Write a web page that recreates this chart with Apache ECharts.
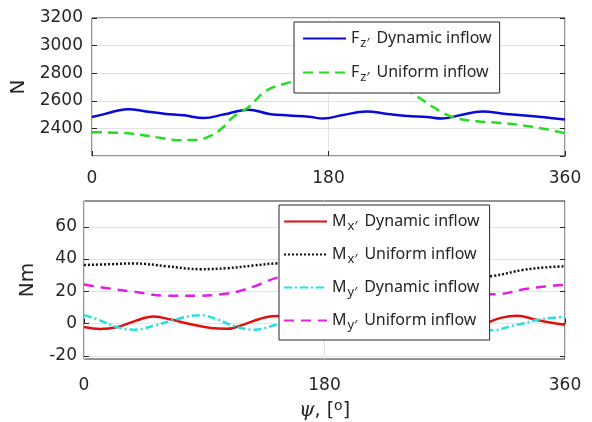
<!DOCTYPE html>
<html><head><meta charset="utf-8">
<script src="https://cdn.jsdelivr.net/npm/echarts@6/dist/echarts.min.js"></script>
<style>html,body{margin:0;padding:0;background:#fff}#c{width:592px;height:422px}</style>
</head><body><div id="c"></div>
<script>
// ---- Top panel data (psi in degrees, force in N) ----
const psiFzDyn = [0,10,20,28,40,55,70,85,100,119,135,150,165,176,190,209,225,240,255,266,280,297,315,340,360];
const fzDynamic = [2482,2505,2530,2538,2525,2507,2495,2475,2500,2536,2505,2494,2485,2471,2495,2522,2505,2490,2483,2471,2495,2522,2505,2485,2465];
const psiFzUni = [0,27,50,65,80,90,100,107,119,133,151,170,195,220,240,260,275,293,310,328,345,360];
const fzUniform = [2373,2364,2335,2315,2318,2345,2410,2480,2553,2676,2735,2790,2820,2770,2676,2553,2480,2451,2440,2422,2395,2364];

// ---- Bottom panel data (moments in Nm) ----
const psiMxDyn = [0,12,25,38,52,65,80,95,107,120,132,144,158,172,187,200,215,232,245,260,275,287,300,312,324,339,350,360];
const mxDynamic = [-2.2,-3.4,-2.2,1.5,4.3,2.5,-0.5,-2.8,-3.3,-0.5,3,4.6,2.5,-1,-3.3,-2,1.5,4.5,3,0,-3,-3.3,0,3.5,4.8,2.2,0.5,-0.8];
const psiMxUni = [0,20,37,62,87,107,127,144,160,190,220,250,280,306,329,345,360];
const mxUniform = [36.3,36.8,37.3,35.5,33.7,34.3,36,37.3,37.5,35,31,28,27.5,29.5,33.3,34.8,35.5];
const psiMyDyn = [0,12,23,37,52,67,87,100,113,127,144,160,177,190,205,220,240,255,270,285,306,318,329,339,350,360];
const myDynamic = [5.2,2,-1.8,-3.8,-1.5,2.2,5.2,2.5,-1.8,-3.8,-0.8,3,5,2.5,-1.5,-3.8,-1,3,5,1.5,-4.2,-2,0.2,2.2,3.5,4.2];
const psiMyUni = [0,20,37,62,87,107,117,127,144,160,180,200,230,260,285,309,329,345,360];
const myUniform = [24.2,21.5,19.8,17.3,17.3,18.6,20.3,22.9,28.3,31,32.5,32,28,22,18.5,18.2,21.2,23,23.9];

// ---- Axis ticks ----
const xTicks = [0,180,360];
const topYTicks = [2400,2600,2800,3000,3200];
const botYTicks = [-20,0,20,40,60];

const zip = (xs, ys) => xs.map((x,i)=>[x, ys[i]]);
const FONT = 'Noto Sans';
const TICKFONT = 'DejaVu Sans';
const TXT = '#262626';

const legendNames = {
  'Fz Dynamic inflow': '{b|F}{s|z\u2032}{b|Dynamic inflow}',
  'Fz Uniform inflow': '{b|F}{s|z\u2032}{b|Uniform inflow}',
  'Mx Dynamic inflow': '{b|M}{s|x\u2032}{b|Dynamic inflow}',
  'Mx Uniform inflow': '{b|M}{s|x\u2032}{b|Uniform inflow}',
  'My Dynamic inflow': '{b|M}{s|y\u2032}{b|Dynamic inflow}',
  'My Uniform inflow': '{b|M}{s|y\u2032}{b|Uniform inflow}'
};
const legendRich = {
  b: {fontFamily: FONT, fontSize: 16, color: TXT, lineHeight: 22},
  s: {fontFamily: FONT, fontSize: 13, color: TXT, lineHeight: 22, padding: [10,7,0,1]}
};

function xAxisDef(gridIndex, withName, margin) {
  return {
    type: 'value', gridIndex, min: 0, max: 360, interval: 180,
    axisLine: {show: false},
    axisTick: {show: true, inside: true, length: 5, lineStyle: {color: TXT}},
    axisLabel: {fontFamily: TICKFONT, fontSize: 17, color: TXT, margin},
    splitLine: {show: true, lineStyle: {color: '#e3e3e3', width: 1}},
    name: withName ? '{i|\u03c8}{n|, [}{sup|o}{n|]}' : '',
    nameLocation: 'middle', nameGap: 40,
    nameTextStyle: {rich: {
      i: {fontFamily: 'DejaVu Serif', fontStyle: 'italic', fontSize: 20, color: TXT},
      n: {fontFamily: TICKFONT, fontSize: 19, color: TXT},
      sup: {fontFamily: TICKFONT, fontSize: 14, color: TXT, padding: [0,0,10,0]}
    }}
  };
}

const legendCommon = {
  orient: 'vertical', itemWidth: 43, itemHeight: 14,
  backgroundColor: '#fff', borderColor: '#262626', borderWidth: 1, borderRadius: 0,
  itemStyle: {opacity: 0},
  formatter: n => legendNames[n], textStyle: {rich: legendRich}
};

const option = {
  backgroundColor: '#fff',
  animation: false,
  grid: [
    {left: 92, right: 27, top: 18, height: 138, show: true, borderColor: '#262626', borderWidth: 1, backgroundColor: '#fff'},
    {left: 84, right: 27, top: 201, height: 162, show: true, borderColor: '#262626', borderWidth: 1, backgroundColor: '#fff'}
  ],
  xAxis: [xAxisDef(0, false, 14), xAxisDef(1, true, 18)],
  yAxis: [
    {type: 'value', gridIndex: 0, min: 2200, max: 3200, interval: 200,
     axisLine: {show: false},
     axisTick: {show: true, inside: true, length: 5, lineStyle: {color: TXT}},
     axisLabel: {fontFamily: TICKFONT, fontSize: 17, color: TXT, margin: 9, showMinLabel: false, formatter: v => String(v)},
     splitLine: {show: true, lineStyle: {color: '#e3e3e3'}},
     name: 'N', nameLocation: 'middle', nameGap: 62,
     nameTextStyle: {fontFamily: TICKFONT, fontSize: 20, color: TXT}},
    {type: 'value', gridIndex: 1, min: -22, max: 76,
     axisLine: {show: false},
     axisTick: {show: true, inside: true, length: 5, lineStyle: {color: TXT}, customValues: botYTicks},
     axisLabel: {fontFamily: TICKFONT, fontSize: 17, color: TXT, margin: 7, customValues: botYTicks},
     splitLine: {show: true, lineStyle: {color: '#e3e3e3'}},
     name: 'Nm', nameLocation: 'middle', nameGap: 46,
     nameTextStyle: {fontFamily: TICKFONT, fontSize: 20, color: TXT}},
    {type: 'value', gridIndex: 0, min: 2200, max: 3200, interval: 200, position: 'right',
     axisLine: {show: false}, axisLabel: {show: false}, splitLine: {show: false},
     axisTick: {show: true, inside: true, length: 5, lineStyle: {color: TXT}}},
    {type: 'value', gridIndex: 1, min: -22, max: 76, position: 'right',
     axisLine: {show: false}, axisLabel: {show: false}, splitLine: {show: false},
     axisTick: {show: true, inside: true, length: 5, lineStyle: {color: TXT}, customValues: botYTicks}}
  ],
  legend: [
    Object.assign({}, legendCommon, {left: 294, top: 22, itemGap: 11, padding: [5, 8, 9, 8],
      data: ['Fz Dynamic inflow', 'Fz Uniform inflow']}),
    Object.assign({}, legendCommon, {left: 279, top: 205, itemGap: 10, padding: [5, 10, 8, 4],
      data: ['Mx Dynamic inflow', 'Mx Uniform inflow', 'My Dynamic inflow', 'My Uniform inflow']})
  ],
  series: [
    {name: 'Fz Dynamic inflow', type: 'line', xAxisIndex: 0, yAxisIndex: 0, smooth: 0.4, symbol: 'none',
     data: zip(psiFzDyn, fzDynamic), lineStyle: {color: '#0a0ad8', width: 2.5}, itemStyle: {color: '#0a0ad8'}},
    {name: 'Fz Uniform inflow', type: 'line', xAxisIndex: 0, yAxisIndex: 0, smooth: 0.4, symbol: 'none',
     data: zip(psiFzUni, fzUniform), lineStyle: {color: '#22dd22', width: 2.5, type: [10, 6]}, itemStyle: {color: '#22dd22'}},
    {name: 'Mx Dynamic inflow', type: 'line', xAxisIndex: 1, yAxisIndex: 1, smooth: 0.4, symbol: 'none',
     data: zip(psiMxDyn, mxDynamic), lineStyle: {color: '#e01010', width: 2.5}, itemStyle: {color: '#e01010'}},
    {name: 'Mx Uniform inflow', type: 'line', xAxisIndex: 1, yAxisIndex: 1, smooth: 0.4, symbol: 'none',
     data: zip(psiMxUni, mxUniform), lineStyle: {color: '#111', width: 2.5, type: [2, 2]}, itemStyle: {color: '#111'}},
    {name: 'My Dynamic inflow', type: 'line', xAxisIndex: 1, yAxisIndex: 1, smooth: 0.4, symbol: 'none',
     data: zip(psiMyDyn, myDynamic), lineStyle: {color: '#22e0e0', width: 2.5, type: [8, 3, 2, 3]}, itemStyle: {color: '#22e0e0'}},
    {name: 'My Uniform inflow', type: 'line', xAxisIndex: 1, yAxisIndex: 1, smooth: 0.4, symbol: 'none',
     data: zip(psiMyUni, myUniform), lineStyle: {color: '#e020e0', width: 2.5, type: [10, 7]}, itemStyle: {color: '#e020e0'}}
  ]
};
const chart = echarts.init(document.getElementById('c'), null, {renderer: 'canvas'});
chart.setOption(option);
</script></body></html>
